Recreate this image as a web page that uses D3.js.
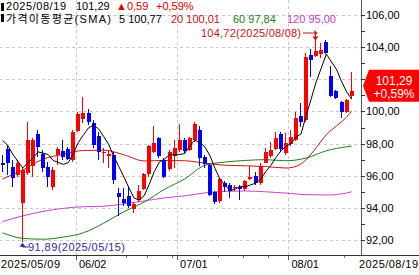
<!DOCTYPE html>
<html>
<head>
<meta charset="utf-8">
<title>가격이동평균 캔들 차트</title>
<script src="https://cdn.jsdelivr.net/npm/d3@7/dist/d3.min.js"></script>
<style>
  body { margin: 0; background: #fff; }
  text { font-family: "Liberation Sans", Arial, sans-serif; font-size: 11px; }
  .kr { font-family: "Liberation Sans", "Noto Sans CJK KR", sans-serif; }
</style>
</head>
<body>
<script>
var width = 419,
    height = 276;

// daily candles, 2025/05/09 .. 2025/08/19
var opens  = [96.77,97.64,96.52,96.04,94.28,96.15,96.60,98.60,97.35,96.56,
              95.32,97.29,97.56,97.64,96.98,98.80,99.50,99.88,99.30,98.50,
              97.40,97.25,97.30,94.90,94.55,94.74,93.90,94.50,95.20,96.10,
              97.50,98.33,96.98,96.40,97.20,97.60,98.20,97.62,98.22,98.84,
              97.18,96.67,94.97,94.42,95.56,95.41,95.25,95.30,95.16,95.80,
              95.98,95.53,96.81,97.20,97.66,98.58,97.39,97.95,98.22,99.74,
              99.47,103.51,103.45,103.60,104.30,102.20,101.27,100.61,99.95,100.98];
var highs  = [97.29,97.91,96.98,96.98,96.56,99.36,98.33,98.84,97.60,96.87,
              96.56,97.77,98.22,97.77,98.84,99.98,100.90,100.13,99.47,98.70,
              97.75,97.60,97.45,95.25,95.25,95.30,94.38,95.40,96.20,97.90,
              99.10,98.43,97.08,97.60,98.20,99.20,98.33,98.43,99.36,99.10,
              97.28,96.77,95.08,95.87,95.70,95.52,95.45,95.45,95.75,96.60,
              96.25,96.77,97.70,98.10,98.70,98.70,98.64,98.85,99.94,100.50,
              103.62,103.89,104.72,104.24,104.42,102.80,101.34,100.65,100.75,102.43];
var lows   = [96.25,96.04,95.32,95.94,91.89,96.04,95.94,97.18,96.25,95.32,
              95.11,96.67,96.98,96.98,96.87,98.74,99.30,99.16,97.70,97.00,
              96.80,96.50,95.50,93.50,94.10,94.00,93.66,94.35,95.10,95.90,
              97.40,97.10,95.85,96.30,96.50,97.45,97.40,97.52,98.08,96.60,
              96.46,94.76,94.22,94.33,95.00,94.62,95.05,94.47,95.08,95.75,
              95.42,95.42,96.77,97.10,97.60,97.54,97.29,97.87,98.16,99.05,
              99.36,102.16,103.40,103.30,103.55,100.90,100.78,99.60,99.88,100.78];
var closes = [96.65,96.77,95.84,96.81,96.35,98.22,98.22,97.81,96.46,95.90,
              96.35,97.64,97.18,97.02,98.74,99.84,99.92,99.36,97.91,97.50,
              97.50,97.35,95.73,94.70,94.30,94.10,94.24,95.05,96.12,97.85,
              98.05,97.20,95.95,97.50,97.73,98.22,97.52,98.33,99.20,97.12,
              96.75,94.82,94.35,95.80,95.30,95.08,95.32,95.20,95.65,95.90,
              95.57,96.60,97.50,97.60,98.33,97.66,98.02,98.43,99.57,99.32,
              103.41,103.20,103.75,103.85,103.65,100.98,100.86,99.95,100.70,101.29];

// 5-day average before enough closes exist
var ma5Head = [98.20, 97.90, 97.35, 96.90];

// longer averages at these candle indices
var ma20Idx = [0,4,8,12,16,20,24,28,32,36,40,44,48,52,56,58,60,62,64,66,68,69];
var ma20Val = [95.80,96.35,97.03,97.33,97.57,97.59,97.30,96.92,96.95,96.93,96.78,
               96.65,96.62,96.57,96.48,96.58,97.00,97.75,98.55,99.10,99.65,100.01];
var maIdx   = [0,4,8,12,16,20,24,28,32,36,40,44,48,52,56,60,64,68,69];
var ma60Val = [92.45,92.10,92.05,92.18,92.45,93.05,93.76,94.36,95.15,95.80,96.65,
               96.85,96.95,97.00,96.93,97.10,97.55,97.80,97.84];
var ma120Val= [93.15,93.50,93.78,93.97,94.07,94.10,94.25,94.43,94.62,94.75,94.93,
               95.03,95.05,95.00,94.92,94.82,94.80,94.92,95.00];

var yTicks = [92, 94, 96, 98, 100, 102, 104, 106];
var xTickIdx = [15, 35, 57];
var xTickLabels = ['06/02', '07/01', '08/01'];
var xMinorIdx = [25, 29, 34, 43, 48, 53, 68];
var firstDate = '2025/05/09', lastDate = '2025/08/19';

var fmt = function(v) { return d3.format('.2f')(v).replace('.', ','); };

var svg = d3.select('body')
  .append('svg')
  .attr('width', width)
  .attr('height', height);

var plotRight = 361, plotBottom = 255;

var x = d3.scaleBand()
  .domain(d3.range(closes.length))
  .range([0, 354.2]);
var cx = function(i) { return x(i) + x.bandwidth() / 2; };

var y = d3.scaleLinear()
  .domain([92, 106])
  .range([240, 15]);

// grid
var grid = svg.append('g')
  .attr('stroke', '#c8c8c8')
  .attr('stroke-dasharray', '3,3')
  .attr('shape-rendering', 'crispEdges');
grid.selectAll('.hg')
  .data(yTicks)
  .enter()
  .append('line')
  .attr('x1', 0).attr('x2', plotRight)
  .attr('y1', function(d) { return Math.round(y(d)) + 0.5; })
  .attr('y2', function(d) { return Math.round(y(d)) + 0.5; });
grid.selectAll('.vg')
  .data(xTickIdx)
  .enter()
  .append('line')
  .attr('y1', 0).attr('y2', plotBottom)
  .attr('x1', function(d) { return Math.round(x(d)) + 0.5; })
  .attr('x2', function(d) { return Math.round(x(d)) + 0.5; });

var plot = svg.append('g');

// moving averages
var ma5 = closes.map(function(c, i) {
  return i < 4 ? ma5Head[i] : d3.mean(closes.slice(i - 4, i + 1));
});

var smooth = d3.line()
  .x(function(d) { return cx(d[0]); })
  .y(function(d) { return y(d[1]); })
  .curve(d3.curveMonotoneX);

var maLines = [
  { idx: maIdx, val: ma120Val, color: '#d23cd2' },
  { idx: maIdx, val: ma60Val, color: '#1a7f1a' },
  { idx: ma20Idx, val: ma20Val, color: '#c81414' }
];
plot.selectAll('.ma')
  .data(maLines)
  .enter()
  .append('path')
  .attr('fill', 'none')
  .attr('stroke', function(d) { return d.color; })
  .attr('stroke-width', 1)
  .attr('d', function(d) { return smooth(d3.zip(d.idx, d.val)); });

// candles
var candles = plot.selectAll('.candle')
  .data(d3.range(closes.length))
  .enter()
  .append('g')
  .attr('shape-rendering', 'crispEdges')
  .attr('fill', function(i) { return closes[i] >= opens[i] ? '#ff0000' : '#0000ff'; })
  .attr('stroke', function(i) { return closes[i] >= opens[i] ? '#ff0000' : '#0000ff'; });

candles.append('line')
  .attr('x1', function(i) { return Math.round(cx(i) - 2) + 1.5; })
  .attr('x2', function(i) { return Math.round(cx(i) - 2) + 1.5; })
  .attr('y1', function(i) { return y(highs[i]); })
  .attr('y2', function(i) { return y(lows[i]); });

candles.append('rect')
  .attr('stroke', 'none')
  .attr('x', function(i) { return Math.round(cx(i) - 2); })
  .attr('width', 4)
  .attr('y', function(i) { return y(Math.max(opens[i], closes[i])); })
  .attr('height', function(i) {
    return Math.max(1, Math.abs(y(opens[i]) - y(closes[i])));
  });

plot.append('path')
  .attr('fill', 'none')
  .attr('stroke', '#000')
  .attr('stroke-width', 1)
  .attr('d', d3.line()
    .x(function(d, i) { return cx(i); })
    .y(function(d) { return y(d); })(ma5));

// high / low markers
var hiI = d3.maxIndex(highs), loI = d3.minIndex(lows);
var hiX = Math.round(cx(hiI) - 2) + 1.5, hiY = 33;
svg.append('text')
  .attr('x', 201).attr('y', hiY + 4)
  .attr('textLength', 100)
  .attr('fill', '#c81414')
  .text(fmt(highs[hiI]) + '(2025/08/08)');
svg.append('path')
  .attr('fill', 'none')
  .attr('stroke', '#c81414')
  .attr('d', 'M303,' + hiY + 'H' + hiX + 'V' + (y(highs[hiI]) + 3));
svg.append('path')
  .attr('fill', '#c81414')
  .attr('d', 'M' + (hiX - 1) + ',' + (hiY - 3) + 'l3,3l-3,3z');
svg.append('path')
  .attr('fill', '#c81414')
  .attr('d', 'M' + (hiX - 3) + ',' + (y(highs[hiI]) + 1) + 'l3,4l3,-4z');

var loX = Math.round(cx(loI) - 2) + 1.5, loY = 247;
svg.append('path')
  .attr('fill', 'none')
  .attr('stroke', '#2b2ba8')
  .attr('d', 'M' + (loX + 6) + ',' + loY + 'H' + loX + 'V' + (y(lows[loI]) + 2));
svg.append('path')
  .attr('fill', '#2b2ba8')
  .attr('d', 'M' + (loX - 3) + ',' + (y(lows[loI]) + 5) + 'l3,-4l3,4z');
svg.append('text')
  .attr('x', 28).attr('y', loY + 4)
  .attr('textLength', 97)
  .attr('fill', '#2b2ba8')
  .text(fmt(lows[loI]) + '(2025/05/15)');

// last price tag position (labels under it are hidden)
var last = closes.length - 1;
var change = closes[last] - closes[last - 1];
var pct = change / closes[last - 1] * 100;
var ty = y(closes[last]) - 5;

// right axis
var axis = svg.append('g').attr('shape-rendering', 'crispEdges');
axis.append('line')
  .attr('x1', plotRight + 0.5).attr('x2', plotRight + 0.5)
  .attr('y1', 0).attr('y2', plotBottom)
  .attr('stroke', '#555');
axis.selectAll('.yt')
  .data(d3.range(92, 107, 1))
  .enter()
  .append('line')
  .attr('x1', plotRight).attr('x2', plotRight + 4)
  .attr('y1', function(d) { return Math.round(y(d)) + 0.5; })
  .attr('y2', function(d) { return Math.round(y(d)) + 0.5; })
  .attr('stroke', '#333');
axis.selectAll('.yl')
  .data(yTicks.filter(function(d) { return Math.abs(y(d) - ty) > 22; }))
  .enter()
  .append('text')
  .attr('x', plotRight + 5)
  .attr('y', function(d) { return y(d) + 4; })
  .attr('fill', '#000')
  .text(fmt);

// bottom axis
axis.append('line')
  .attr('x1', 0).attr('x2', width)
  .attr('y1', plotBottom + 0.5).attr('y2', plotBottom + 0.5)
  .attr('stroke', '#333');
axis.append('line')
  .attr('x1', 0).attr('x2', width)
  .attr('y1', height - 0.5).attr('y2', height - 0.5)
  .attr('stroke', '#ccc');
axis.selectAll('.xt')
  .data(xTickIdx)
  .enter()
  .append('line')
  .attr('x1', function(d) { return Math.round(x(d)) + 0.5; })
  .attr('x2', function(d) { return Math.round(x(d)) + 0.5; })
  .attr('y1', plotBottom + 1).attr('y2', plotBottom + 5)
  .attr('stroke', '#555');
axis.selectAll('.xm')
  .data(xMinorIdx)
  .enter()
  .append('line')
  .attr('x1', function(d) { return Math.round(x(d)) + 0.5; })
  .attr('x2', function(d) { return Math.round(x(d)) + 0.5; })
  .attr('y1', plotBottom + 1).attr('y2', plotBottom + 3)
  .attr('stroke', '#777');
axis.selectAll('.xl')
  .data(xTickIdx)
  .enter()
  .append('text')
  .attr('x', function(d, i) { return x(d) + 3; })
  .attr('y', 268)
  .text(function(d, i) { return xTickLabels[i]; });
axis.append('text').attr('x', 1).attr('y', 268)
  .attr('textLength', 59).text(firstDate);
axis.append('text').attr('x', width - 60).attr('y', 268)
  .attr('textLength', 59).text(lastDate);

// last price tag
svg.append('path')
  .attr('fill', '#ff0000')
  .attr('d', 'M363,' + ty + 'L369,' + (ty - 16) + 'H' + width + 'V' + (ty + 16) + 'H369Z');
svg.append('text')
  .attr('x', 394).attr('y', ty - 1)
  .attr('text-anchor', 'middle').attr('fill', '#fff').style('font-size', '12px')
  .text(fmt(closes[last]));
svg.append('text')
  .attr('x', 394).attr('y', ty + 12)
  .attr('text-anchor', 'middle').attr('fill', '#fff').style('font-size', '12px')
  .text('+' + fmt(pct) + '%');

// header
var head = svg.append('g');
head.append('rect').attr('x', 1).attr('y', 3).attr('width', 3).attr('height', 8).attr('fill', '#000');
head.append('rect').attr('x', 1).attr('y', 14).attr('width', 3).attr('height', 8).attr('fill', '#000');
head.append('text').attr('x', 6).attr('y', 10).attr('textLength', 60).text(lastDate);
head.append('text').attr('x', 76).attr('y', 10).text(fmt(closes[last]));
head.append('text').attr('x', 116).attr('y', 10).attr('fill', '#e00000')
  .text('\u25B2' + fmt(change));
head.append('text').attr('x', 156).attr('y', 10).attr('fill', '#e00000')
  .text('+' + fmt(pct) + '%');

var maLabels = ['5 100,77', '20 100,01', '60 97,84', '120 95,00'];
var maLabelX = [119, 171, 233, 287];
var maLabelColor = ['#000', '#c81414', '#1a7f1a', '#c83cc8'];
head.append('text').attr('class', 'kr').attr('x', 6).attr('y', 22.5)
  .attr('textLength', 105)
  .text('가격이동평균(SMA)');
head.selectAll('.mal')
  .data(maLabels)
  .enter()
  .append('text')
  .attr('x', function(d, i) { return maLabelX[i]; })
  .attr('y', 22.5)
  .attr('fill', function(d, i) { return maLabelColor[i]; })
  .text(function(d) { return d; });
</script>
</body>
</html>
